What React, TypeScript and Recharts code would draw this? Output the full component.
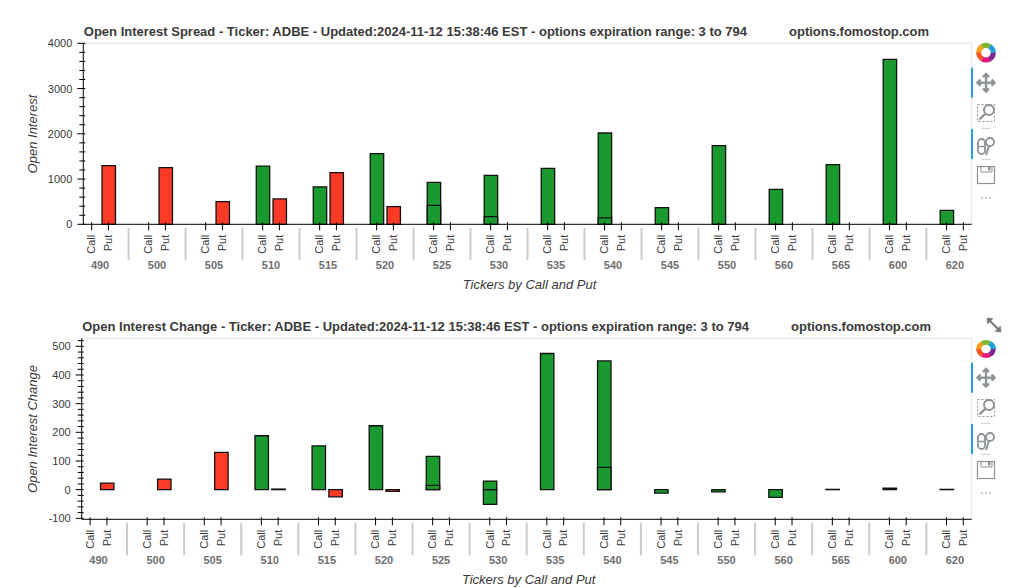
import { Bar, BarChart, ReferenceLine, XAxis, YAxis } from "recharts";

const FONT = "'Liberation Sans', Arial, sans-serif";
const GREEN = "#1a9a2e";
const RED = "#ff3b28";
const INK = "#3a3a3a";
const UPDATED = "Ticker: ADBE - Updated:2024-11-12 15:38:46 EST - options expiration range: 3 to 794";

const strikes = ["490", "500", "505", "510", "515", "520", "525", "530", "535", "540", "545", "550", "560", "565", "600", "620"];
const sides = ["Call", "Put"];

// open interest
const oiCall = [null, null, null, 1285, 825, 1560, 928, 1083, 1237, 2018, 368, 1738, 773, 1318, 3646, 309];
const oiCallInner = [null, null, null, null, null, null, 420, 170, null, 140, null, null, null, null, null, null];
const oiPut = [1296, 1252, 500, 560, 1142, 390, null, null, null, null, null, null, null, null, null, null];

// open interest change
const chgCall = [null, null, null, 188, 153, 223, 116, -51, 475, 449, -12, -8, -27, 1, 5, 1];
const chgCallInner = [null, null, null, null, null, null, 15, 30, null, 78, null, null, null, null, null, null];
const chgPut = [23, 37, 130, 2, -25, -6, null, null, null, null, null, null, null, null, null, null];

const oiTicks = [0, 200, 400, 600, 800, 1000, 1200, 1400, 1600, 1800, 2000, 2200, 2400, 2600, 2800, 3000, 3200, 3400, 3600, 3800, 4000];
const chgTicks = [-100, -80, -60, -40, -20, 0, 20, 40, 60, 80, 100, 120, 140, 160, 180, 200, 220, 240, 260, 280, 300, 320, 340, 360, 380, 400, 420, 440, 460, 480, 500, 520];

// same layout as a bokeh nested factor range: two factors per group, 1.4 between groups
const GROUP_STEP = 3.4;
const X_MAX = 53;
const factorTicks = strikes.flatMap((_, i) => [i * GROUP_STEP + 0.5, i * GROUP_STEP + 1.5]);

function buildRows(call: any[], inner: any[], put: any[]) {
  return strikes.flatMap((strike, i) => [
    { pos: i * GROUP_STEP + 0.5, strike, side: "Call", call: call[i], inner: inner[i], put: null },
    { pos: i * GROUP_STEP + 1.5, strike, side: "Put", call: null, inner: null, put: put[i] },
  ]);
}

function FactorTick({ x, y, index, unit }: any) {
  const isCall = index % 2 === 0;
  const group = Math.floor(index / 2);
  return (
    <g fontFamily={FONT}>
      <line x1={x} x2={x} y1={y - 2} y2={y + 6} stroke="#000" strokeWidth={1} />
      <text
        transform={`translate(${x + 3.8},${y + 10.5}) rotate(-90)`}
        textAnchor="end"
        fontSize={11}
        fill={INK}
      >
        {sides[index % 2]}
      </text>
      {isCall && (
        <text x={x + unit / 2} y={y + 44.5} textAnchor="middle" fontSize={11} fontWeight="bold" fill="#6e6e6e">
          {strikes[group]}
        </text>
      )}
      {isCall && group > 0 && (
        <line x1={x - unit * 0.7 - unit * 0.5} x2={x - unit * 0.7 - unit * 0.5} y1={y + 3.4} y2={y + 36} stroke="#ccc" strokeWidth={2} />
      )}
    </g>
  );
}

function ValueTick({ x, y, payload, major }: any) {
  const isMajor = payload.value % major === 0;
  return (
    <g fontFamily={FONT}>
      <line x1={x - (isMajor ? 6 : 4)} x2={x + 2} y1={y} y2={y} stroke="#000" strokeWidth={1} />
      {isMajor && (
        <text x={x - 11} y={y + 4} textAnchor="end" fontSize={11} fill={INK}>
          {payload.value}
        </text>
      )}
    </g>
  );
}

function Panel({ top, left, titleName, domainX, yLabel, labelMidY, rows, ticks, major, domain }: any) {
  const W = 1019;
  const H = 293;
  const plotRight = 971.7;
  const plotTop = 43.3;
  const plotBottom = 224.3;
  const unit = (plotRight - left) / X_MAX;
  const mid = (left + plotRight) / 2;
  return (
    <div style={{ position: "absolute", left: 0, top }}>
      <BarChart
        width={W}
        height={H}
        data={rows}
        barSize={unit * 0.8}
        barGap={-unit * 0.8}
        margin={{ left: left - 60, right: W - plotRight, top: plotTop, bottom: H - plotBottom - 68 }}
      >
        <ReferenceLine y={domain[1]} stroke="#e2e2e2" strokeWidth={1} />
        <ReferenceLine x={X_MAX} stroke="#e2e2e2" strokeWidth={1} />
        <XAxis
          type="number"
          dataKey="pos"
          domain={[0, X_MAX]}
          ticks={factorTicks}
          interval={0}
          height={68}
          tickLine={false}
          axisLine={{ stroke: "#000", strokeWidth: 1 }}
          tick={(p: any) => <FactorTick {...p} y={plotBottom} unit={unit} />}
        />
        <YAxis
          type="number"
          width={60}
          domain={domain}
          ticks={ticks}
          interval={0}
          tickLine={false}
          axisLine={{ stroke: "#000", strokeWidth: 1 }}
          tick={(p: any) => <ValueTick {...p} x={left} major={major} />}
        />
        <Bar dataKey="call" fill={GREEN} stroke="#111" strokeWidth={1.3} isAnimationActive={false} />
        <Bar dataKey="inner" fill={GREEN} stroke="#111" strokeWidth={1.3} isAnimationActive={false} />
        <Bar dataKey="put" fill={RED} stroke="#111" strokeWidth={1.3} isAnimationActive={false} />
        <text x={left + 0.5} y={36} fontFamily={FONT} fontSize={13} fontWeight="bold" fill={INK}>
          {titleName + " - " + UPDATED}
        </text>
        <text x={domainX} y={36} fontFamily={FONT} fontSize={13} fontWeight="bold" fill={INK}>
          options.fomostop.com
        </text>
        <text
          transform={`translate(37,${labelMidY}) rotate(-90)`}
          textAnchor="middle"
          fontFamily={FONT}
          fontSize={13}
          fontStyle="italic"
          fill={INK}
        >
          {yLabel}
        </text>
        <text x={mid + 2} y={plotBottom + 65} textAnchor="middle" fontFamily={FONT} fontSize={13} fontStyle="italic" fill={INK}>
          Tickers by Call and Put
        </text>
      </BarChart>
    </div>
  );
}

const logoColors = ["#f9a11b", "#7cb82f", "#1e9fd6", "#7b2d8e", "#e6127e", "#f15a24"];

function Toolbar({ top, logoY, logoRy }: any) {
  const grey = "#8b9298";
  return (
    <svg width={50} height={190} style={{ position: "absolute", left: 969, top }}>
      <g transform={`translate(17,${logoY}) scale(1,${logoRy / 10})`}>
        {logoColors.map((c, i) => {
          const a0 = (i * Math.PI) / 3 - Math.PI;
          const a1 = a0 + Math.PI / 3 + 0.04;
          const p = (a: number) => `${7.3 * Math.cos(a)},${7.3 * Math.sin(a)}`;
          return <path key={c} d={`M${p(a0)} A7.3 7.3 0 0 1 ${p(a1)}`} fill="none" stroke={c} strokeWidth={5} />;
        })}
      </g>
      <rect x={2} y={37.7} width={2} height={30} fill="#26a0da" />
      <rect x={2} y={99} width={2} height={30} fill="#26a0da" />
      {/* pan */}
      <g stroke={grey} strokeWidth={2.4} fill="none">
        <line x1={8.5} x2={25.5} y1={52.7} y2={52.7} />
        <line x1={17} x2={17} y1={44} y2={61.5} />
        <path d="M14 47 L17 44 L20 47" />
        <path d="M14 58.5 L17 61.5 L20 58.5" />
        <path d="M11.5 49.7 L8.5 52.7 L11.5 55.7" />
        <path d="M22.5 49.7 L25.5 52.7 L22.5 55.7" />
      </g>
      {/* box zoom */}
      <rect x={8.5} y={74.5} width={17} height={17} fill="none" stroke={grey} strokeWidth={1} strokeDasharray="2 2" />
      <circle cx={20} cy={80} r={5} fill="#fff" stroke={grey} strokeWidth={2} />
      <line x1={16} x2={10.5} y1={84} y2={89.5} stroke={grey} strokeWidth={2.4} />
      <line x1={12} x2={21.7} y1={98.3} y2={98.3} stroke="#ccc" strokeWidth={1} />
      {/* wheel zoom */}
      <rect x={9} y={109} width={7} height={15} rx={3.5} fill="none" stroke={grey} strokeWidth={1.8} />
      <line x1={10} x2={15} y1={116.5} y2={116.5} stroke={grey} strokeWidth={1.5} />
      <circle cx={21} cy={112} r={4} fill="#fff" stroke={grey} strokeWidth={1.8} />
      <line x1={20} x2={17} y1={116} y2={125} stroke={grey} strokeWidth={2} />
      <line x1={12} x2={21.7} y1={129.3} y2={129.3} stroke="#ccc" strokeWidth={1} />
      {/* save */}
      <rect x={8.5} y={136.5} width={17} height={17} fill="none" stroke={grey} strokeWidth={1.2} />
      <path d="M12 136.5 V142 H23 V136.5" fill="none" stroke={grey} strokeWidth={1} />
      <rect x={19} y={137} width={2.5} height={3.5} fill={grey} />
      {[13, 17, 21].map((cx) => (
        <circle key={cx} cx={cx} cy={168} r={0.8} fill={grey} />
      ))}
    </svg>
  );
}

export default function App() {
  return (
    <div style={{ position: "absolute", left: 0, top: 0, width: 1019, height: 588, overflow: "hidden", background: "#fff" }}>
      <Panel
        top={0}
        left={83.3}
        titleName="Open Interest Spread"
        domainX={789}
        yLabel="Open Interest"
        labelMidY={134}
        rows={buildRows(oiCall, oiCallInner, oiPut)}
        ticks={oiTicks}
        major={1000}
        domain={[0, 4000]}
      />
      <Panel
        top={295}
        left={81.7}
        titleName="Open Interest Change"
        domainX={791}
        yLabel="Open Interest Change"
        labelMidY={134}
        rows={buildRows(chgCall, chgCallInner, chgPut)}
        ticks={chgTicks}
        major={100}
        domain={[-103.4, 528]}
      />
      <Toolbar top={30} logoY={22.7} logoRy={10} />
      <Toolbar top={325} logoY={24} logoRy={9} />
      <svg width={18} height={18} style={{ position: "absolute", left: 985, top: 316 }}>
        <g stroke="#777" strokeWidth={2} fill="#777">
          <line x1={4} y1={4} x2={14} y2={14} />
          <path d="M2 2 L8 2.5 L2.5 8 Z" strokeWidth={0.5} />
          <path d="M16 16 L10 15.5 L15.5 10 Z" strokeWidth={0.5} />
        </g>
      </svg>
    </div>
  );
}
